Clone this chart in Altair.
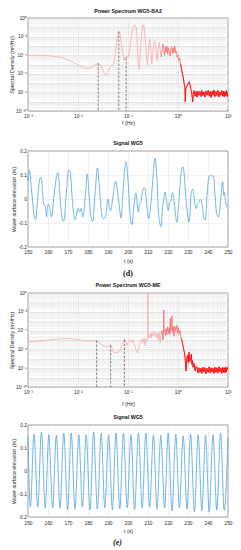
import altair as alt
import pandas as pd

# ---------------- Power spectrum WG5-BA2 (frequency Hz, log10 PSD) ----------------
ba2_f = [0.001, 0.0015, 0.002, 0.003, 0.004, 0.005, 0.007, 0.01, 0.013, 0.016, 0.019, 0.022,
         0.0254, 0.028, 0.031, 0.034, 0.036, 0.039, 0.043, 0.047, 0.05, 0.053, 0.056, 0.06,
         0.0635, 0.0655, 0.068, 0.072, 0.076, 0.08, 0.084, 0.087, 0.0916, 0.096, 0.1, 0.104,
         0.11, 0.12, 0.13, 0.138, 0.145, 0.15, 0.155, 0.16, 0.165, 0.171, 0.18, 0.19, 0.198,
         0.204, 0.21, 0.22, 0.23, 0.24, 0.246, 0.255, 0.265, 0.275, 0.287, 0.3, 0.315, 0.33,
         0.345, 0.36, 0.38, 0.4, 0.42, 0.44, 0.46, 0.48, 0.5, 0.52, 0.54, 0.56, 0.58, 0.6,
         0.62, 0.64, 0.67, 0.7, 0.72, 0.75, 0.78, 0.8, 0.83, 0.86, 0.9, 0.93, 0.96, 1.0,
         1.04, 1.08, 1.12, 1.17, 1.22, 1.27, 1.32, 1.37, 1.4, 1.43, 1.48, 1.55, 1.62, 1.68,
         1.74, 1.8, 1.86, 1.92, 1.97, 2.02,
         2.1, 2.2, 2.3, 2.4, 2.5, 2.6, 2.75, 2.9, 3.0, 3.15, 3.3, 3.45, 3.6, 3.8, 4.0, 4.2,
         4.4, 4.6, 4.8, 5.0, 5.25, 5.5, 5.75, 6.0, 6.3, 6.6, 6.9, 7.2, 7.5, 7.8, 8.1, 8.4,
         8.7, 9.0, 9.3, 9.6, 10.0]
ba2_e = [-4.0, -4.0, -4.02, -4.08, -4.18, -4.3, -4.6, -5.05, -5.35, -5.42, -5.28, -5.02,
         -4.88, -5.0, -5.5, -6.05, -6.15, -5.85, -5.35, -5.15, -5.05, -4.7, -3.7, -2.3,
         -1.6, -1.45, -1.6, -2.3, -3.3, -4.1, -4.55, -4.2, -4.3, -4.05, -4.3, -4.0,
         -3.0, -1.6, -0.9, -0.73, -1.0, -1.9, -3.4, -4.9, -5.5, -4.8, -2.9, -1.5, -0.85,
         -0.73, -1.0, -2.2, -3.6, -4.7, -5.05, -3.8, -2.6, -2.3, -3.4, -4.9, -3.7, -2.6,
         -2.45, -3.4, -4.6, -3.2, -2.6, -3.4, -4.2, -3.5, -2.8, -3.4, -4.0, -3.1, -3.7, -3.0,
         -3.9, -3.2, -3.6, -4.1, -3.3, -3.1, -3.8, -3.2, -3.7, -3.0, -3.8, -3.6, -4.2, -4.0,
         -4.6, -4.3, -4.9, -5.4, -6.0, -6.3, -7.0, -7.4, -9.0, -7.6, -7.4, -7.2, -6.95, -6.85,
         -7.2, -7.6, -7.9, -8.5, -9.0, -8.2,
         -7.8, -8.4, -7.9, -8.5, -7.85, -8.3, -7.9, -8.45, -7.8, -8.35, -7.95, -8.5, -7.85,
         -8.3, -7.8, -8.4, -7.9, -8.55, -7.85, -8.3, -7.75, -8.45, -7.9, -8.35, -7.8, -8.5,
         -7.95, -8.3, -7.8, -8.4, -7.85, -8.5, -7.9, -8.35, -7.8, -8.45, -8.0]
ba2_dash_f = [0.0254, 0.0655, 0.0916]
ba2_dash_e = [-4.88, -1.45, -4.3]

# ---------------- Signal WG5 (d) ----------------
sig_d_t = [150.0, 150.8, 151.5, 152.2, 153.0, 153.8, 154.8, 155.6, 156.2, 156.7, 157.4, 158.0,
           158.5, 159.0, 159.3, 159.7, 160.2, 160.9, 161.7, 163.0, 163.8, 165.0, 166.2, 167.0,
           167.9, 169.2, 170.3, 171.0, 172.2, 173.0, 173.6, 175.0, 175.8, 176.5, 177.5, 178.8,
           179.6, 180.7, 181.5, 182.3, 183.6, 184.7, 185.8, 186.7, 187.6, 188.7, 190.0, 190.6,
           191.3, 192.0, 193.0, 193.9, 194.9, 195.8, 196.5, 197.5, 198.4, 199.0, 200.0, 200.8,
           201.5, 202.0, 202.8, 203.6, 204.0, 204.7, 205.2, 205.7, 206.3, 207.0, 208.0, 208.6,
           209.4, 210.3, 210.9, 211.8, 212.8, 213.5, 214.4, 215.1, 215.8, 216.5, 217.3, 218.0,
           218.5, 219.0, 219.7, 220.2, 220.7, 221.4, 221.9, 222.3, 222.9, 223.7, 224.4, 225.4,
           226.4, 227.4, 228.0, 228.9, 229.7, 230.4, 231.0, 231.6, 232.5, 233.4, 234.2, 234.7,
           235.5, 236.1, 236.7, 237.3, 238.0, 238.7, 239.5, 240.6, 241.8, 242.8, 243.5, 244.2,
           245.2, 245.9, 246.6, 247.3, 247.9, 248.2, 248.7, 249.2, 250.0]
sig_d_v = [0.075, 0.12, 0.06, 0.0, -0.068, -0.085, 0.0, 0.068, 0.09, 0.086, 0.014, -0.025,
           -0.027, -0.06, -0.075, -0.035, -0.023, -0.04, -0.075, 0.014, 0.07, 0.11, -0.015, -0.075,
           -0.093, 0.028, 0.12, 0.115, -0.006, -0.075, -0.085, -0.04, -0.055, -0.04, -0.075, 0.028,
           0.105, 0.0, -0.075, -0.093, 0.028, 0.13, 0.04, -0.055, -0.082, -0.075, 0.0, -0.03,
           -0.05, -0.02, 0.04, 0.075, 0.02, -0.04, -0.08, 0.028, 0.13, 0.155, 0.08, -0.04,
           -0.095, -0.107, -0.04, 0.014, 0.025, -0.03, -0.055, -0.02, -0.018, 0.02, 0.047, 0.04,
           -0.03, -0.082, -0.062, 0.014, 0.124, 0.171, 0.095, -0.04, -0.095, -0.115, -0.035, 0.007,
           0.03, 0.007, -0.035, -0.048, -0.014, -0.011, 0.014, 0.027, 0.003, -0.063, -0.097, -0.014,
           0.096, 0.135, 0.11, 0.007, -0.055, -0.097, -0.062, 0.027, 0.04, -0.02, -0.04, -0.02,
           -0.014, 0.0, -0.011, -0.04, -0.082, -0.087, 0.014, 0.096, 0.097, 0.095, 0.014, -0.055,
           -0.075, -0.048, 0.027, 0.072, 0.015, 0.027, -0.007, -0.03, -0.035]

# ---------------- Power spectrum WG5-ME ----------------
me_f = [0.001, 0.0015, 0.002, 0.003, 0.004, 0.005, 0.0065, 0.008, 0.01, 0.013, 0.017, 0.021,
        0.0236, 0.026, 0.029, 0.033, 0.037, 0.041, 0.0449, 0.048, 0.052, 0.057, 0.063, 0.069,
        0.075, 0.08, 0.085, 0.09, 0.095, 0.1, 0.106, 0.112, 0.118, 0.125, 0.132, 0.14, 0.148,
        0.155, 0.162, 0.17, 0.18, 0.19, 0.2, 0.21, 0.22, 0.23, 0.24, 0.247, 0.25, 0.253,
        0.265, 0.28, 0.29, 0.3, 0.32, 0.34, 0.36, 0.38, 0.4, 0.42, 0.44, 0.46, 0.48, 0.5,
        0.515, 0.52, 0.525, 0.54, 0.56, 0.58, 0.6, 0.62, 0.645, 0.67, 0.69, 0.7, 0.71, 0.73,
        0.755, 0.77, 0.8, 0.83, 0.86, 0.9, 0.95, 0.98, 1.02, 1.06, 1.1, 1.15, 1.2, 1.25, 1.3,
        1.35, 1.4, 1.45, 1.5, 1.55, 1.6, 1.66, 1.72, 1.8, 1.85, 1.9, 1.95, 2.0, 2.1, 2.2, 2.3,
        2.4, 2.5, 2.6, 2.75, 2.9, 3.0, 3.15, 3.3, 3.45, 3.6, 3.8, 4.0, 4.2, 4.4, 4.6, 4.8,
        5.0, 5.25, 5.5, 5.75, 6.0, 6.3, 6.6, 6.9, 7.2, 7.5, 7.8, 8.1, 8.4, 8.7, 9.0, 9.3,
        9.6, 10.0]
me_e = [-5.2, -5.12, -5.05, -4.95, -4.9, -4.86, -4.85, -4.88, -4.95, -5.05, -5.1, -5.1,
        -5.05, -5.25, -5.45, -5.65, -5.75, -5.65, -5.55, -5.9, -6.35, -6.3, -6.35, -6.1,
        -5.6, -5.2, -4.95, -5.2, -5.55, -5.3, -5.05, -4.95, -5.3, -5.0, -5.4, -5.8, -6.2,
        -6.4, -6.0, -5.5, -5.2, -4.9, -5.3, -4.8, -5.6, -4.9, -5.2, -4.5, 0.2, -4.3,
        -4.8, -4.3, -4.8, -4.2, -4.6, -4.1, -4.7, -4.3, -5.0, -4.2, -5.3, -4.4, -4.0, -5.0,
        -4.0, -1.8, -4.1, -3.9, -4.5, -3.8, -4.4, -3.6, -4.3, -3.7, -4.4, -2.7, -4.0, -3.9,
        -2.4, -4.2, -3.6, -4.6, -3.5, -4.1, -3.4, -4.3, -3.7, -4.4, -4.0, -4.8, -5.0, -5.6, -6.0,
        -6.4, -7.2, -8.3, -7.0, -6.6, -7.4, -6.3, -7.3, -7.0, -6.5, -7.6, -7.2, -7.9, -7.5, -8.3,
        -7.8,
        -7.9, -8.5, -7.95, -8.45, -8.0, -8.55, -7.9, -8.4, -7.95, -8.6, -8.0, -8.45, -7.85,
        -8.5, -7.95, -8.4, -8.0, -8.55, -7.9, -8.45, -7.95, -8.5, -7.85, -8.4, -8.0, -8.55,
        -7.9, -8.45, -7.95, -8.5, -7.9, -8.4, -7.95, -8.2]
me_dash_f = [0.0236, 0.0449, 0.085]
me_dash_e = [-5.05, -5.55, -4.95]

# ---------------- Signal WG5 (e): read peaks and troughs ----------------
sig_e_peak_t = [150.0, 153.0, 156.7, 160.4, 164.2, 167.9, 171.6, 175.4, 179.1, 182.8, 186.6,
                190.3, 194.0, 197.7, 201.5, 205.2, 208.9, 212.7, 216.4, 220.1, 223.9, 227.6,
                231.3, 235.1, 238.8, 242.5, 246.3, 250.0]
sig_e_peak_v = [0.15, 0.16, 0.17, 0.157, 0.155, 0.165, 0.165, 0.157, 0.158, 0.17, 0.165,
                0.157, 0.165, 0.165, 0.157, 0.165, 0.165, 0.155, 0.155, 0.165, 0.16, 0.152,
                0.16, 0.158, 0.155, 0.158, 0.165, 0.145]
sig_e_trough_t = [151.2, 154.9, 158.6, 162.3, 166.0, 169.8, 173.5, 177.2, 181.0, 184.7, 188.4,
                  192.2, 195.9, 199.6, 203.3, 207.1, 210.8, 214.5, 218.3, 222.0, 225.7, 229.5,
                  233.2, 236.9, 240.6, 244.4, 248.1]
sig_e_trough_v = [-0.155, -0.157, -0.16, -0.16, -0.16, -0.168, -0.165, -0.157, -0.168, -0.165,
                  -0.16, -0.168, -0.165, -0.16, -0.167, -0.16, -0.157, -0.165, -0.16, -0.173,
                  -0.16, -0.165, -0.177, -0.173, -0.178, -0.17, -0.172]

# ---------------- helpers ----------------
FONT = "Liberation Sans"
TXT = "#262626"
SUP = str.maketrans("-0123456789", "⁻⁰¹²³⁴⁵⁶⁷⁸⁹")


def decade_expr(exps):
    parts = "".join(
        f"abs(log(datum.value)/LN10 - ({e})) < 0.001 ? '10{str(e).translate(SUP)}' : " for e in exps
    )
    return parts + "''"


MAJOR_TEST = "abs(log(datum.value)/LN10 - round(log(datum.value)/LN10)) < 0.001"
grid_col = {"condition": {"test": MAJOR_TEST, "value": "#d2d2d2"}, "value": "#ebebeb"}

x_log_vals = [k * 10.0 ** e for e in range(-3, 1) for k in range(1, 10)] + [10.0]
y_log_vals = [k * 10.0 ** e for e in range(-10, 0) for k in range(1, 10)] + [1.0]

W = 200


def spectrum(f, e, dash_f, dash_e, height, title, xpad):
    df = pd.DataFrame({"f": f, "p": [10.0 ** v for v in e]})
    dd = pd.DataFrame({"f": dash_f, "p": [10.0 ** v for v in dash_e], "b": [1e-10] * len(dash_f)})
    x = alt.X("f:Q", scale=alt.Scale(type="log", domain=[1e-3, 10], nice=False),
              axis=alt.Axis(values=x_log_vals, labelExpr=decade_expr([-3, -2, -1, 0, 1]),
                            gridColor=grid_col, labelOverlap=False, labelFlush=False,
                            labelPadding=2, titlePadding=xpad, title="f (Hz)"))
    y = alt.Y("p:Q", scale=alt.Scale(type="log", domain=[1e-10, 1], nice=False),
              axis=alt.Axis(values=y_log_vals, labelExpr=decade_expr([0, -2, -4, -6, -8, -10]),
                            gridColor=grid_col, labelOverlap=False, labelFlush=False,
                            labelPadding=1.5, titlePadding=1.5,
                            title="Spectral Density (m²/Hz)"))
    base = alt.Chart(df)
    pale = base.mark_line(color="#f7a9a9", strokeWidth=0.8, clip=True).encode(x=x, y=y)
    mid = base.transform_filter("datum.f >= 0.45").mark_line(
        color="#f03c3c", strokeWidth=0.7, opacity=0.5, clip=True).encode(x=x, y=y)
    strong = base.transform_filter("datum.f >= 1.12").mark_line(
        color="#ff0000", strokeWidth=0.8, clip=True).encode(x=x, y=y)
    dash = alt.Chart(dd).mark_rule(color="#4d4d4d", strokeWidth=0.7, strokeDash=[2.5, 1.5]).encode(
        x="f:Q", y="p:Q", y2="b:Q")
    return alt.layer(pale, mid, strong, dash).properties(width=W, height=height, title=title)


def signal(t, v, height, title, lpad, tpad):
    df = pd.DataFrame({"t": t, "v": v})
    x = alt.X("t:Q", scale=alt.Scale(domain=[150, 250], nice=False),
              axis=alt.Axis(values=list(range(150, 251, 10)), labelFlush=False, gridColor="#e3e3e3",
                            labelPadding=lpad, titlePadding=tpad, title="t (s)"))
    y = alt.Y("v:Q", scale=alt.Scale(domain=[-0.2, 0.2], nice=False),
              axis=alt.Axis(values=[-0.2, -0.1, 0, 0.1, 0.2], gridColor="#e3e3e3",
                            labelExpr="datum.value == 0 ? '0' : (datum.value < 0 ? '-' : '') + format(abs(datum.value), '.1f')",
                            labelPadding=1.5, titlePadding=1.5, title="Water surface elevation (m)"))
    return alt.Chart(df).mark_line(color="#4ea3df", strokeWidth=0.8, interpolate="monotone").encode(
        x=x, y=y).properties(width=W, height=height, title=title)


def tparams(text, offset):
    return alt.TitleParams(text, font=FONT, fontSize=5.3, fontWeight="bold", color="#111111",
                           anchor="middle", frame="group", offset=offset)


p1 = spectrum(ba2_f, ba2_e, ba2_dash_f, ba2_dash_e, 93,
              tparams("Power Spectrum WG5-BA2", 1), 3)
p2 = signal(sig_d_t, sig_d_v, 96, tparams("Signal WG5", 2), 2, 5)
p3 = spectrum(me_f, me_e, me_dash_f, me_dash_e, 94,
              alt.TitleParams("(d)", subtitle="Power Spectrum WG5-ME", font="Liberation Serif",
                              fontSize=8, fontWeight="bold", color="#111111",
                              subtitleFont=FONT, subtitleFontSize=5.3, subtitleFontWeight="bold",
                              subtitleColor="#111111", subtitlePadding=5, anchor="middle",
                              frame="group", offset=1.5), 8)

e_t = sig_e_peak_t + sig_e_trough_t
e_v = sig_e_peak_v + sig_e_trough_v
order = sorted(range(len(e_t)), key=lambda i: e_t[i])
p4 = signal([e_t[i] for i in order], [e_v[i] for i in order], 92,
            tparams("Signal WG5", 2), 3, 4)

top = alt.vconcat(p1, p2, spacing=13)
bottom = alt.vconcat(p3, p4, spacing=6)

chart = alt.vconcat(
    top, bottom, spacing=4,
    title=alt.TitleParams("(e)", orient="bottom", font="Liberation Serif", fontSize=8,
                          fontStyle="italic", color="#111111", anchor="middle", offset=5, dx=-3),
).properties(padding=0, background="white").configure_view(
    stroke="#3a3a3a", strokeWidth=0.6
).configure_axis(
    labelFont=FONT, labelFontSize=4.8, labelColor=TXT, titleFont=FONT, titleFontSize=5.3,
    titleFontWeight="normal", titleColor=TXT, ticks=False, domain=False, gridWidth=0.5,
)

chart.save("out.html", embed_options={"renderer": "svg", "actions": False})
